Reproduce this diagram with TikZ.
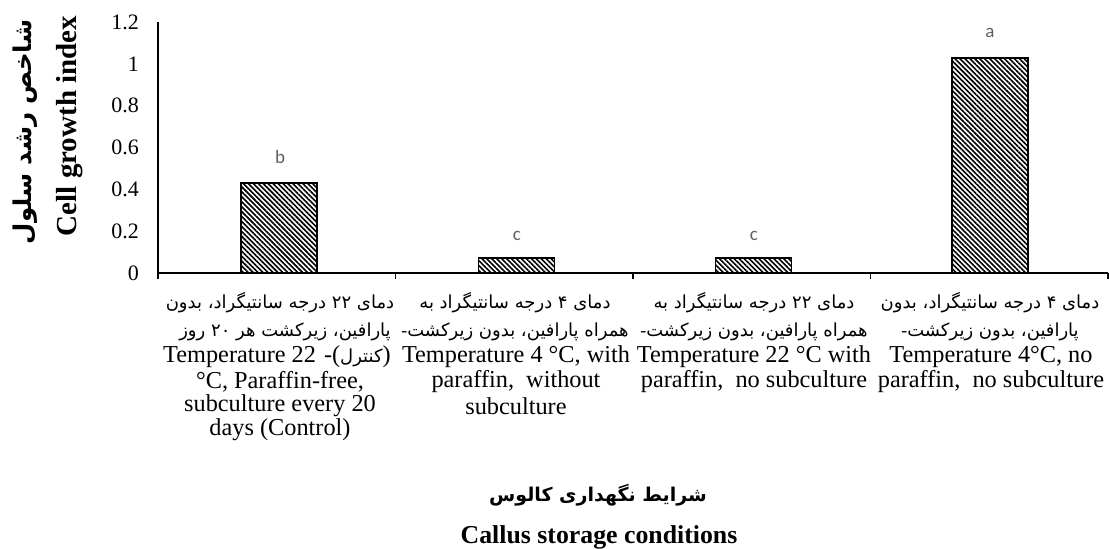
\documentclass[tikz,border=0pt]{standalone}
\usepackage{fontspec}
\setmainfont{Liberation Serif}
\newfontfamily\fa[Script=Arabic]{DejaVu Sans}
\newfontfamily\calfont{Carlito}
\TeXXeTstate=1
\usetikzlibrary{patterns.meta}
\newcommand{\dsh}{{\rmfamily -}}
\begin{document}
\begin{tikzpicture}[x=1pt,y=1pt,
  axisline/.style={line width=1.4pt, black},
  hatchbar/.style={draw=black, line width=1.3pt, pattern={Lines[angle=-45,distance=3.5pt,line width=1.6pt]}},
  sig/.style={text=black!62, font=\calfont\fontsize{19}{19}\selectfont, inner sep=0pt},
  ticklab/.style={font=\fontsize{22}{22}\selectfont, anchor=east, inner sep=0pt},
  en/.style={font=\fontsize{24.3}{25}\selectfont, inner sep=0pt},
  fa/.style={font=\fa\fontsize{18}{20}\selectfont, inner sep=0pt},
  ytitle/.style={font=\bfseries\fontsize{29}{30}\selectfont, inner sep=0pt, rotate=90}
]
\useasboundingbox (0,0) rectangle (1109,549);
% axes
\coordinate (ytop) at (158,527);
\coordinate (o) at (158,276);
\coordinate (xend) at (1108,276);
\draw[axisline] (ytop) -- (o) -- (xend);
\foreach \k in {0,1,2,3,4}{
  \coordinate (t\k) at ({158+237.5*\k},276);
  \draw[axisline] (t\k) -- ++(0,-6);
}
% tick labels
\foreach \v/\lab in {0/0,0.2/0.2,0.4/0.4,0.6/0.6,0.8/0.8,1/1,1.2/1.2}{
  \node[ticklab] (yl\lab) at (139,{276+\v*209}) {\lab};
}
% bars
\draw[hatchbar] (241,276) rectangle (317,366);
\draw[hatchbar] (478.5,276) rectangle (554.5,291);
\draw[hatchbar] (715.5,276) rectangle (791.5,291);
\draw[hatchbar] (952,276) rectangle (1028,491);
% significance letters
\node[sig] (sb) at (280,392) {b};
\node[sig] (sc1) at (517,313) {c};
\node[sig] (sc2) at (754,313) {c};
\node[sig] (sa) at (990,516) {a};
% category 1
\node[fa] (c1a) at (280,246) {\beginR دمای ۲۲ درجه سانتیگراد، بدون\endR};
\node[fa] (c1b) at (285,217) {\beginR پارافین، زیرکشت هر ۲۰ روز\endR};
\node[en, anchor=west] (c1c) at (163,192) {Temperature 22\hspace{8pt}-({\fa\fontsize{18}{20}\selectfont کنترل})};
\node[en] (c1d) at (280,167) {°C, Paraffin-free,};
\node[en] (c1e) at (280,143) {subculture every 20};
\node[en] (c1f) at (280,119) {days (Control)};
% category 2
\node[fa] (c2a) at (515,246) {\beginR دمای ۴ درجه سانتیگراد به\endR};
\node[fa] (c2b) at (515,217) {\dsh\beginR همراه پارافین، بدون زیرکشت\endR};
\node[en] (c2c) at (516,192) {Temperature 4 °C, with};
\node[en] (c2d) at (516,167) {paraffin,\ \ without};
\node[en] (c2e) at (516,143) {subculture};
% category 3
\node[fa] (c3a) at (754,246) {\beginR دمای ۲۲ درجه سانتیگراد به\endR};
\node[fa] (c3b) at (754,217) {\dsh\beginR همراه پارافین، بدون زیرکشت\endR};
\node[en] (c3c) at (754,192) {Temperature 22 °C with};
\node[en] (c3d) at (754,167) {paraffin,\ \ no subculture};
% category 4
\node[fa] (c4a) at (990,246) {\beginR دمای ۴ درجه سانتیگراد، بدون\endR};
\node[fa] (c4b) at (990,217) {\dsh\beginR پارافین، بدون زیرکشت\endR};
\node[en] (c4c) at (991,192) {Temperature 4°C, no};
\node[en] (c4d) at (991,167) {paraffin,\ \ no subculture};
% axis titles
\node[font=\fa\bfseries\fontsize{19}{20}\selectfont, inner sep=0pt] (xfa) at (598,54) {\beginR شرایط نگهداری کالوس\endR};
\node[font=\bfseries\fontsize{25.8}{26}\selectfont, inner sep=0pt] (xen) at (599,12) {Callus storage conditions};
\node[font=\fa\bfseries\fontsize{24.5}{26}\selectfont, inner sep=0pt, rotate=90] (yfa) at (25,417) {\beginR شاخص رشد سلول\endR};
\node[ytitle] (yen) at (70,423) {Cell growth index};
\end{tikzpicture}
\end{document}
